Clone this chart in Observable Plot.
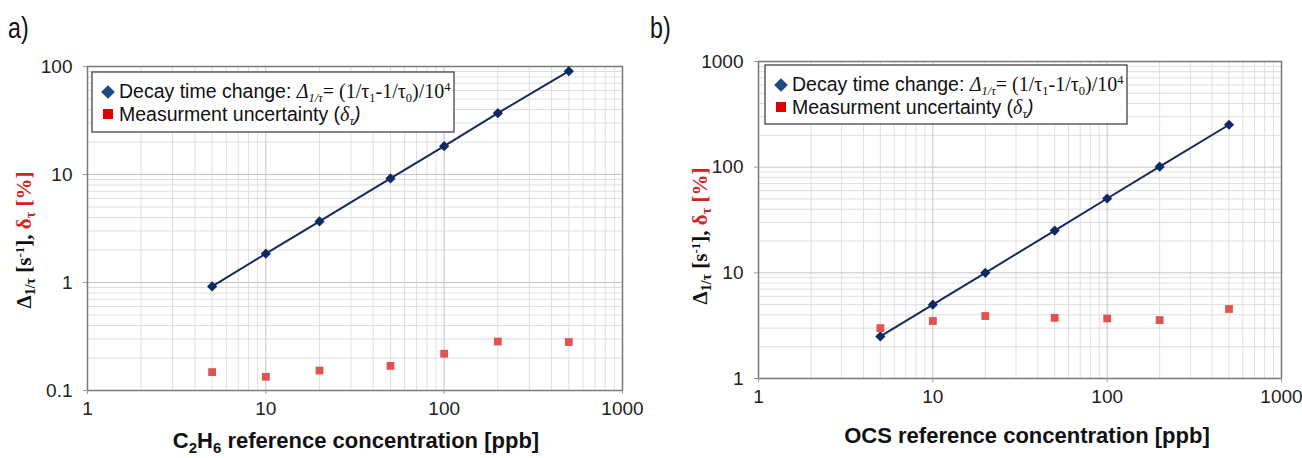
<!DOCTYPE html>
<html>
<head>
<meta charset="utf-8">
<script src="https://cdn.jsdelivr.net/npm/d3@7"></script>
<script src="https://cdn.jsdelivr.net/npm/@observablehq/plot@0.6"></script>
<style>
  html, body { margin: 0; padding: 0; background: #fff; }
  #wrap { position: relative; width: 1302px; height: 458px; overflow: hidden; font-family: "Liberation Sans", Arial, sans-serif; }
  .panel { position: absolute; top: 0; }
  .tag { position: absolute; top: 12px; font-size: 29px; color: #111; transform: scaleX(0.8); transform-origin: left top; }
  #wrap g[aria-label="x-axis tick label"], #wrap g[aria-label="y-axis tick label"] { font-size: 19px; }
</style>
</head>
<body>
<div id="wrap">
  <div class="tag" style="left:8px">a)</div>
  <div class="tag" style="left:650px">b)</div>
  <div class="panel" id="pa" style="left:0px"></div>
  <div class="panel" id="pb" style="left:650px"></div>
</div>
<script>
// ---- data ----
const concentration = [5, 10, 20, 50, 100, 200, 500];
const decayA = [0.92, 1.85, 3.68, 9.2, 18.3, 37, 90.5];
const uncertaintyA = [0.148, 0.134, 0.153, 0.169, 0.219, 0.284, 0.281];
const decayB = [2.5, 5.0, 10.0, 25.1, 50.5, 101, 252];
const uncertaintyB = [3.0, 3.5, 3.9, 3.75, 3.7, 3.57, 4.55];

const xTicks = [1, 10, 100, 1000];
const xTickLabels = ["1", "10", "100", "1000"];
const yTicksA = [0.1, 1, 10, 100];
const yTickLabelsA = ["0.1", "1", "10", "100"];
const yTicksB = [1, 10, 100, 1000];
const yTickLabelsB = ["1", "10", "100", "1000"];

function minorTicks(majors) {
  const out = [];
  for (let i = 0; i < majors.length - 1; i++)
    for (let k = 2; k <= 9; k++) out.push(majors[i] * k);
  return out;
}

function panel(opts) {
  const rows = concentration.map((c, i) => ({c, decay: opts.decay[i], unc: opts.unc[i]}));
  const svg = Plot.plot({
    width: opts.width, height: 458,
    marginLeft: opts.ml, marginRight: opts.mr, marginTop: opts.mt, marginBottom: opts.mb,
    x: {type: "log", domain: [1, 1000]},
    y: {type: "log", domain: [opts.yTicks[0], opts.yTicks[opts.yTicks.length - 1]]},
    style: {fontFamily: "'Liberation Sans', Arial, sans-serif", fontSize: "18px", color: "#222", background: "transparent", overflow: "visible"},
    marks: [
      Plot.ruleX(minorTicks(xTicks), {stroke: "#dedede", strokeWidth: 1}),
      Plot.ruleY(minorTicks(opts.yTicks), {stroke: "#dedede", strokeWidth: 1}),
      Plot.ruleX(xTicks, {stroke: "#c4c4c4", strokeWidth: 1}),
      Plot.ruleY(opts.yTicks, {stroke: "#c4c4c4", strokeWidth: 1}),
      Plot.frame({stroke: "#7a7a7a", strokeWidth: 1.5}),
      Plot.axisX({ticks: xTicks, tickFormat: d => xTickLabels[xTicks.indexOf(d)], tickSize: 4, tickPadding: 7, fontSize: 19, label: null, stroke: "#999", fill: "#222"}),
      Plot.axisY({ticks: opts.yTicks, tickFormat: d => opts.yLabels[opts.yTicks.indexOf(d)], tickSize: 4, tickPadding: 11, fontSize: 19, label: null, stroke: "#999", fill: "#222"}),
      Plot.line(rows, {x: "c", y: "decay", stroke: "#17295a", strokeWidth: 2}),
      Plot.dot(rows, {x: "c", y: "decay", symbol: "diamond2", r: 4.6, fill: "#0d2a66", stroke: "none"}),
      Plot.dot(rows, {x: "c", y: "unc", symbol: "square", r: 4.4, fill: "#e25252", stroke: "none"})
    ]
  });
  const s = d3.select(svg);

  // y-axis title (rotated)
  const yt = s.append("text")
    .attr("transform", `translate(${opts.ytx},${opts.yty}) rotate(-90)`)
    .attr("text-anchor", "middle")
    .style("font-family", "'Liberation Serif', 'Times New Roman', serif")
    .style("font-weight", "bold").style("font-size", "21px").attr("fill", "#111");
  yt.append("tspan").text("Δ");
  yt.append("tspan").attr("dy", 4).style("font-size", "14px").text("1/τ");
  yt.append("tspan").attr("dy", -4).text(" [s");
  yt.append("tspan").attr("dy", -7).style("font-size", "13px").text("-1");
  yt.append("tspan").attr("dy", 7).text("], ");
  yt.append("tspan").attr("fill", "#d42222").text("δ");
  yt.append("tspan").attr("fill", "#d42222").attr("dy", 4).style("font-size", "14px").text("τ");
  yt.append("tspan").attr("fill", "#d42222").attr("dy", -4).text(" [%]");

  // x-axis title
  const xt = s.append("text")
    .attr("x", opts.xtx).attr("y", opts.xty)
    .attr("text-anchor", "middle")
    .style("font-family", "'Liberation Sans', Arial, sans-serif")
    .style("font-weight", "bold").style("font-size", "22px").attr("fill", "#111");
  opts.xTitle(xt);

  // legend box
  const g = s.append("g").attr("transform", `translate(${opts.lx},${opts.ly})`).attr("text-anchor", "start");
  g.append("rect").attr("x", 0).attr("y", 0).attr("width", opts.lw).attr("height", opts.lh)
    .attr("fill", "#fff").attr("stroke", "#444").attr("stroke-width", 1.3);
  g.append("path").attr("d", d3.symbol(d3.symbolDiamond2, 120)()).attr("transform", "translate(16,20)").attr("fill", "#1d4a80");
  g.append("rect").attr("x", 11).attr("y", 37).attr("width", 10).attr("height", 10).attr("fill", "#e00000");
  const serif = "'Liberation Serif', 'Times New Roman', serif";
  const t1 = g.append("text").attr("x", 27).attr("y", 26).attr("text-anchor", "start").style("font-size", "19.5px").attr("fill", "#111");
  t1.append("tspan").text("Decay time change: ");
  t1.append("tspan").style("font-family", serif).style("font-style", "italic").style("font-size", "20px").text("Δ");
  t1.append("tspan").style("font-family", serif).style("font-style", "italic").style("font-size", "12.5px").attr("dy", 4).text("1/τ");
  t1.append("tspan").style("font-family", serif).style("font-size", "20px").attr("dy", -4).text("= (1/τ");
  t1.append("tspan").style("font-family", serif).style("font-size", "12.5px").attr("dy", 4).text("1");
  t1.append("tspan").style("font-family", serif).style("font-size", "20px").attr("dy", -4).text("-1/τ");
  t1.append("tspan").style("font-family", serif).style("font-size", "12.5px").attr("dy", 4).text("0");
  t1.append("tspan").style("font-family", serif).style("font-size", "20px").attr("dy", -4).text(")/10");
  t1.append("tspan").style("font-family", serif).style("font-size", "12.5px").attr("dy", -7).text("4");
  const t2 = g.append("text").attr("x", 27).attr("y", 49).attr("text-anchor", "start").style("font-size", "19.5px").attr("fill", "#111");
  t2.append("tspan").text("Measurment uncertainty (");
  t2.append("tspan").style("font-family", serif).style("font-style", "italic").style("font-size", "20px").text("δ");
  t2.append("tspan").style("font-family", serif).style("font-style", "italic").style("font-size", "12.5px").attr("dy", 4).text("τ");
  t2.append("tspan").style("font-style", "italic").attr("dy", -4).text(")");
  return svg;
}

document.getElementById("pa").appendChild(panel({
  width: 650, ml: 87, mr: 28, mt: 66, mb: 68,
  yTicks: yTicksA, yLabels: yTickLabelsA, decay: decayA, unc: uncertaintyA,
  ytx: 31, yty: 240, xtx: 356, xty: 448,
  lx: 92, ly: 72, lw: 362, lh: 60,
  xTitle: t => {
    t.append("tspan").text("C");
    t.append("tspan").attr("dy", 5).style("font-size", "15px").text("2");
    t.append("tspan").attr("dy", -5).text("H");
    t.append("tspan").attr("dy", 5).style("font-size", "15px").text("6");
    t.append("tspan").attr("dy", -5).text(" reference concentration [ppb]");
  }
}));

document.getElementById("pb").appendChild(panel({
  width: 652, ml: 108, mr: 21, mt: 61, mb: 80,
  yTicks: yTicksB, yLabels: yTickLabelsB, decay: decayB, unc: uncertaintyB,
  ytx: 57, yty: 236, xtx: 377, xty: 443,
  lx: 115, ly: 65, lw: 362, lh: 59,
  xTitle: t => { t.append("tspan").text("OCS reference concentration [ppb]"); }
}));
</script>
</body>
</html>
